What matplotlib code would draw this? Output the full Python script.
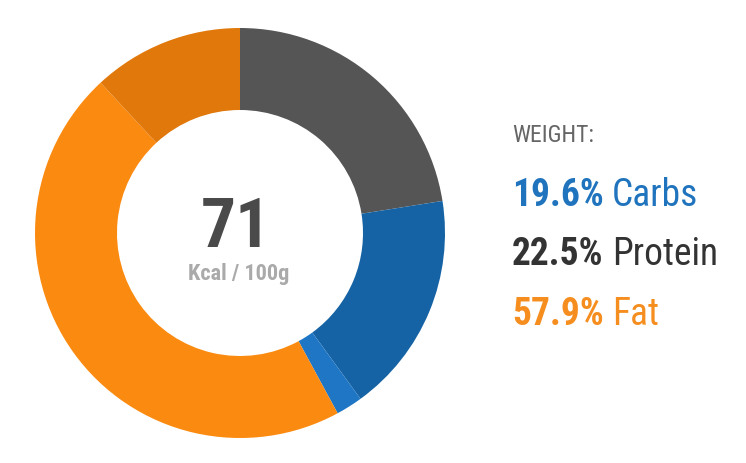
import matplotlib.pyplot as plt

# slices clockwise from 12 o'clock
slice_names = ["Protein", "Carbs", "Fiber", "Fat", "Saturated fat"]
slice_values = [22.5, 17.5, 2.1, 46.0, 11.9]
slice_colors = ["#555555", "#1563a4", "#1e76c5", "#fb8a10", "#e0780b"]

kcal = "71"
kcal_unit = "Kcal / 100g"

legend_pct = ["19.6%", "22.5%", "57.9%"]
legend_names = ["Carbs", "Protein", "Fat"]
legend_colors = ["#1f74bd", "#333333", "#f68e1f"]

plt.rcParams["font.family"] = ["Roboto Condensed", "Roboto", "DejaVu Sans"]

fig = plt.figure(figsize=(7.46, 4.63), dpi=100)
ax = fig.add_axes([35 / 746, 25 / 463, 410 / 746, 410 / 463])
ax.pie(slice_values, colors=slice_colors, startangle=90, counterclock=False,
       radius=1.0, wedgeprops=dict(width=0.40, linewidth=0))
ax.set_xlim(-1, 1)
ax.set_ylim(-1, 1)
ax.set_aspect("equal")
ax.axis("off")

ax.text(-0.02, -0.068, kcal, ha="center", va="baseline", fontsize=50,
        fontweight="bold", color="#4a4a4a")
ax.text(-0.005, -0.23, kcal_unit, ha="center", va="baseline", fontsize=16,
        fontweight="bold", color="#aaaaaa")

fig.text(512 / 746, 1 - 142 / 463, "WEIGHT:", ha="left", va="baseline",
         fontsize=17, color="#666666")

baselines = [206, 265, 325]
for pct, name, col, yb in zip(legend_pct, legend_names, legend_colors, baselines):
    t = fig.text(512 / 746, 1 - yb / 463, pct, ha="left", va="baseline",
                 fontsize=27, fontweight="bold", color=col)
    plt.annotate(name, xy=(1, 0), xycoords=t, xytext=(6, 0),
                 textcoords="offset points", ha="left", va="bottom",
                 fontsize=27, color=col, annotation_clip=False)

plt.savefig("out.png", dpi=100)
